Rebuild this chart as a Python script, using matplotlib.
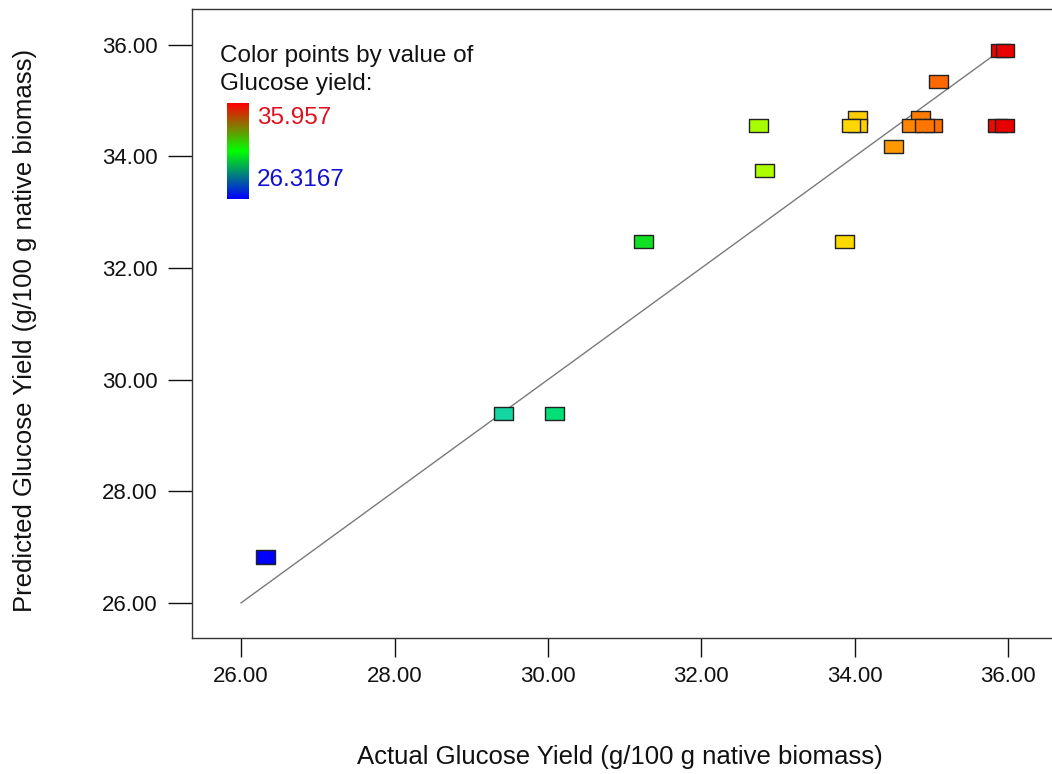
import numpy as np
import matplotlib
matplotlib.use('Agg')
import matplotlib.pyplot as plt
from matplotlib.colors import LinearSegmentedColormap
from matplotlib.path import Path

plt.rcParams['font.family'] = ['Liberation Sans', 'DejaVu Sans']

# data
actual = [26.32, 29.42, 30.09, 31.25, 32.75, 32.82, 33.86, 34.03, 34.03, 33.95,
          34.50, 34.86, 35.01, 34.74, 34.91, 35.09, 35.90, 35.957, 35.86, 35.95]
predicted = [26.82, 29.39, 29.39, 32.47, 34.55, 33.75, 32.47, 34.70, 34.55, 34.55,
             34.18, 34.70, 34.55, 34.55, 34.55, 35.34, 35.90, 35.90, 34.55, 34.55]
y_min, y_max = 26.3167, 35.957
ticks = [26.0, 28.0, 30.0, 32.0, 34.0, 36.0]

# colours used for the points (blue -> green -> yellow -> red)
point_cmap = LinearSegmentedColormap.from_list('pts', [
    (0.00, '#0000ff'), (0.33, '#14dca0'), (0.40, '#00e070'), (0.52, '#10e020'),
    (0.67, '#aaff00'), (0.79, '#ffd800'), (0.85, '#ff9a00'), (0.90, '#ff7000'),
    (0.95, '#f84800'), (1.00, '#e80000')])
# gradient shown in the legend bar
bar_cmap = LinearSegmentedColormap.from_list('bar', ['#0000ff', '#00ff00', '#ff0000'])

fig = plt.figure(figsize=(10.52, 7.74), dpi=100)
W, H = 1052.0, 774.0
ax = fig.add_axes([192 / W, 1 - 638 / H, 1.0 - 192 / W, (638 - 9) / H])

ax.set_xlim(25.36, 36.57)
ax.set_ylim(25.37, 36.64)

ax.plot([26.0, y_max], [26.0, y_max], color='#7a7a7a', lw=1.0, zorder=2)

box = Path([(-1, -0.7), (1, -0.7), (1, 0.7), (-1, 0.7), (-1, -0.7)],
           [Path.MOVETO, Path.LINETO, Path.LINETO, Path.LINETO, Path.CLOSEPOLY])
norm_vals = (np.array(actual) - y_min) / (y_max - y_min)
ax.scatter(actual, predicted, s=185, marker=box, c=point_cmap(np.clip(norm_vals, 0, 1)),
           edgecolors='#222222', linewidths=1.0, zorder=3)

ax.set_xticks(ticks)
ax.set_yticks(ticks)
ax.set_xticklabels(['%.2f' % t for t in ticks])
ax.set_yticklabels(['%.2f' % t for t in ticks])
ax.tick_params(axis='x', length=13.5, width=1.0, pad=7, labelsize=16, colors='#111111')
ax.tick_params(axis='y', length=17.5, width=1.0, pad=7, labelsize=16, colors='#111111')
ax.spines['right'].set_visible(False)
for s in ['left', 'bottom', 'top']:
    ax.spines[s].set_color('#333333')
    ax.spines[s].set_linewidth(1.0)

fig.text(620 / W, 1 - 757 / H, 'Actual Glucose Yield (g/100 g native biomass)',
         ha='center', va='center', fontsize=18.5, color='#111111')
fig.text(25 / W, 1 - 330 / H, 'Predicted Glucose Yield (g/100 g native biomass)',
         ha='center', va='center', rotation=90, fontsize=18.5, color='#111111')

# legend: colour gradient bar with max / min labels
fig.text(220 / W, 1 - 45 / H, 'Color points by value of\nGlucose yield:',
         ha='left', va='top', fontsize=17.5, linespacing=1.35, color='#111111')
cax = fig.add_axes([227 / W, 1 - 199 / H, 22 / W, 96 / H])
cax.imshow(np.linspace(1, 0, 200).reshape(-1, 1), aspect='auto', cmap=bar_cmap)
cax.axis('off')
fig.text(257 / W, 1 - 118 / H, '%.3f' % y_max, ha='left', va='center',
         fontsize=17.5, color='#e0101e')
fig.text(257 / W, 1 - 180 / H, '%.4f' % y_min, ha='left', va='center',
         fontsize=17.5, color='#1010d0')

fig.savefig('out.png', dpi=100)
